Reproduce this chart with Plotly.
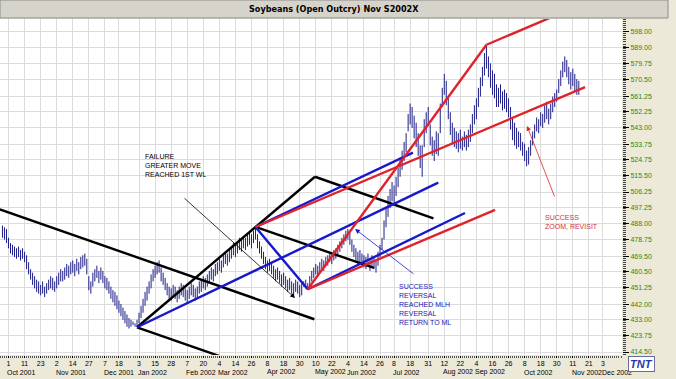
import plotly.graph_objects as go

# ---------------- data ----------------
bar_start = -3  # bar index of first bar (0 = 1 Oct 2001, trading days)
highs = [487,486,485,480,477,476,475,474,475,473,
         474,472,470,466,462,460,458,456,455,453,
         455,452,454,456,458,457,455,458,460,462,
         461,463,465,464,466,467,465,468,466,469,
         470,471,468,458,455,460,462,464,461,463,
         461,458,457,455,452,450,449,447,444,442,
         440,438,436,434,433,432,431,433,437,441,
         445,449,452,455,459,462,464,466,467,463,
         460,457,454,452,451,453,452,450,452,454,
         453,451,450,452,454,453,451,452,455,456,
         458,457,459,461,463,462,465,466,468,467,
         470,472,471,473,475,477,476,478,480,479,
         481,480,482,483,482,484,486,482,478,475,
         472,469,467,468,466,464,462,463,461,459,
         460,458,456,457,455,454,456,455,453,454,
         455,456,454,458,461,463,465,464,466,468,
         467,469,470,472,471,473,474,476,478,480,
         482,484,485,483,479,476,474,472,473,471,
         470,469,471,468,470,469,467,472,476,480,
         490,498,504,508,512,510,515,520,526,530,
         535,540,551,557,555,550,546,540,533,533,
         548,552,555,545,538,536,541,540,557,566,
         574,570,560,552,546,543,541,540,542,538,
         541,539,542,545,551,556,560,566,572,578,
         586,590,584,580,576,574,568,566,568,564,
         565,563,560,555,549,546,543,541,540,535,
         534,530,532,536,541,545,549,548,552,551,
         556,558,554,557,561,563,565,571,576,581,
         584,582,578,575,577,574,571,570]
lows = [480,479,477,474,471,470,469,468,469,467,
        468,466,462,459,456,453,451,449,448,447,
        448,446,448,450,451,450,449,451,453,455,
        455,456,458,457,459,460,458,461,459,462,
        463,464,459,450,448,452,455,457,454,456,
        454,451,450,448,445,443,441,439,437,435,
        433,431,429,428,429,430,429,429,431,434,
        437,441,444,448,451,455,457,459,460,455,
        453,450,447,445,444,446,445,443,445,447,
        446,444,443,445,447,446,444,445,448,449,
        451,450,452,454,456,455,458,459,461,460,
        463,465,464,466,468,470,469,471,473,472,
        474,473,475,476,474,477,479,474,471,468,
        465,462,460,461,459,457,455,456,454,452,
        453,451,449,450,448,447,449,448,446,447,
        452,451,450,452,455,457,459,458,460,462,
        461,463,464,466,465,467,468,470,472,474,
        476,478,479,476,472,469,467,465,466,464,
        463,462,464,461,463,462,460,464,469,473,
        479,486,492,497,501,499,504,509,515,519,
        524,529,541,545,543,537,532,527,520,515,
        532,540,544,533,527,524,528,527,540,555,
        562,556,548,539,534,532,531,529,531,530,
        532,530,532,535,540,545,548,555,561,567,
        573,577,572,566,562,560,555,555,557,553,
        554,552,549,542,536,533,531,532,530,527,
        524,521,522,527,533,537,541,540,544,543,
        546,548,545,548,552,555,558,563,567,572,
        575,572,568,565,567,564,562,562]

tick_bars = [0, 8, 16, 24, 32, 40, 48, 55, 65, 73, 81, 89, 97, 105, 113, 121, 129, 137,
             145, 153, 161, 169, 177, 185, 192, 200, 209, 217, 225, 233, 241, 249, 257,
             265, 273, 281, 289, 296]
tick_days = ["1", "11", "23", "2", "14", "27", "7", "18", "3", "15", "28", "7", "20", "4",
             "14", "26", "8", "18", "30", "10", "22", "4", "14", "26", "8", "18", "31", "12",
             "22", "4", "16", "26", "8", "18", "30", "11", "21", "3"]
month_bars = [0, 24, 48, 65, 89, 105, 129, 153, 169, 192, 217, 233, 257, 281, 296]
month_names = ["Oct 2001", "Nov 2001", "Dec 2001", "Jan 2002", "Feb 2002", "Mar 2002",
               "Apr 2002", "May 2002", "Jun 2002", "Jul 2002", "Aug 2002", "Sep 2002",
               "Oct 2002", "Nov 2002", "Dec 2002"]
price_ticks = [598.00, 589.00, 579.75, 570.50, 561.25, 552.25, 543.00, 533.75, 524.75,
               515.50, 506.25, 497.25, 488.00, 478.75, 469.50, 460.50, 451.25, 442.00,
               433.00, 423.75, 414.50]

# pivots (bar, price)
jan_low = (64, 428.7)
apr_high = (123, 486.2)
may_low = (149, 450.5)
sep_high = (238, 590.7)
black_top = (152.6, 515.0)

black_lines = [((-4.3, 496.3), (152.3, 433.3)),
               (jan_low, (108, 411.0)),
               (apr_high, (182, 462.7)),
               (black_top, (211.6, 491.1)),
               (jan_low, black_top)]
blue_lines = [(jan_low, (214, 511.6)),
              (apr_high, (201.4, 528.8)),
              (may_low, (227.3, 494.2)),
              (apr_high, may_low)]
red_lines = [(may_low, sep_high),
             (apr_high, (287.1, 566.4)),
             (sep_high, (287.0, 614.6)),
             (may_low, (242.3, 496.0))]

# ---------------- figure ----------------
fig = go.Figure()

bx, by = [], []
for i, (h, l) in enumerate(zip(highs, lows)):
    b = bar_start + i
    bx += [b, b, None]
    by += [l, h, None]
fig.add_trace(go.Scatter(x=bx, y=by, mode="lines",
                         line=dict(color="#1e1e88", width=1), hoverinfo="skip",
                         showlegend=False))

def add_segments(segs, color, width):
    xs, ys = [], []
    for (p0, p1) in segs:
        xs += [p0[0], p1[0], None]
        ys += [p0[1], p1[1], None]
    fig.add_trace(go.Scatter(x=xs, y=ys, mode="lines",
                             line=dict(color=color, width=width),
                             hoverinfo="skip", showlegend=False))

add_segments(black_lines, "#000000", 2.4)
add_segments(blue_lines, "#1818cc", 2.4)
add_segments(red_lines, "#e0222a", 2.4)

txt_font = "Liberation Sans, Arial, sans-serif"
anns = []
# thin arrows
anns.append(dict(x=142.7, y=445.5, ax=86.9, ay=503.4, xref="x", yref="y", axref="x", ayref="y",
                 showarrow=True, arrowhead=2, arrowsize=1.2, arrowwidth=0.8, arrowcolor="#000000", text=""))
anns.append(dict(x=172.6, y=485.0, ax=202.4, ay=458.7, xref="x", yref="y", axref="x", ayref="y",
                 showarrow=True, arrowhead=2, arrowsize=1.2, arrowwidth=0.8, arrowcolor="#1818cc", text=""))
anns.append(dict(x=258.2, y=544.1, ax=272.2, ay=502.8, xref="x", yref="y", axref="x", ayref="y",
                 showarrow=True, arrowhead=2, arrowsize=1.2, arrowwidth=0.8, arrowcolor="#e0222a", text=""))
# texts
anns.append(dict(x=67, y=529.5, xref="x", yref="y", xanchor="left", yanchor="top", showarrow=False,
                 align="left", text="FAILURE<br>GREATER MOVE<br>REACHED 1ST WL",
                 font=dict(family=txt_font, size=7, color="#000000")))
anns.append(dict(x=193.3, y=455.5, xref="x", yref="y", xanchor="left", yanchor="top", showarrow=False,
                 align="left", text="SUCCESS<br>REVERSAL<br>REACHED MLH<br>REVERSAL<br>RETURN TO ML",
                 font=dict(family=txt_font, size=7, color="#2020b0")))
anns.append(dict(x=266.2, y=495.0, xref="x", yref="y", xanchor="left", yanchor="top", showarrow=False,
                 align="left", text="SUCCESS<br>ZOOM, REVISIT",
                 font=dict(family=txt_font, size=7, color="#d03040")))
# month labels
for mb, mn in zip(month_bars, month_names):
    anns.append(dict(x=mb, y=-(372 - 355) / 336, xref="x", yref="paper", xanchor="left", yanchor="middle",
                     xshift=-3, showarrow=False, text=mn,
                     font=dict(family=txt_font, size=7, color="#000000")))
# title
anns.append(dict(x=334 / 622, y=1 + 10 / 336, xref="paper", yref="paper", showarrow=False,
                 text="<b>Soybeans (Open Outcry) Nov S2002X</b>", xanchor="center", yanchor="middle",
                 font=dict(family="Liberation Sans Narrow, DejaVu Sans Condensed, Arial Narrow, sans-serif",
                           size=9, color="#000000")))
# TNT logo
anns.append(dict(x=641 / 622, y=(355 - 364) / 336, xref="paper", yref="paper", showarrow=False,
                 text="<b><i>TNT</i></b>", xanchor="center", yanchor="middle",
                 bgcolor="#ffffff", bordercolor="#6a6aa0", borderwidth=1, borderpad=1,
                 font=dict(family="Liberation Sans, Arial, sans-serif", size=11, color="#2a36a8")))

shapes = [dict(type="rect", xref="paper", yref="paper", x0=0, x1=668 / 622,
               y0=1 + 1 / 336, y1=1 + 19 / 336, fillcolor="#d6d3cb",
               line=dict(color="#8c8c8c", width=1), layer="below")]

fig.update_layout(
    width=676, height=379,
    margin=dict(l=0, r=54, t=19, b=24, autoexpand=False),
    paper_bgcolor="#ece9d8", plot_bgcolor="#ffffff",
    showlegend=False,
    annotations=anns, shapes=shapes,
    xaxis=dict(range=[-4.23, 305.5], tickmode="array", tickvals=tick_bars, ticktext=tick_days,
               showgrid=True, gridcolor="#dcdcdc", gridwidth=1, zeroline=False,
               ticks="outside", ticklen=2, tickcolor="#000000", automargin=False,
               tickfont=dict(family=txt_font, size=7, color="#000000"),
               minor=dict(dtick=1, tick0=0, ticklen=2, tickcolor="#555555", showgrid=False),
               showline=False, fixedrange=True),
    yaxis=dict(range=[412.8, 605.45], side="right", tickmode="array", tickvals=price_ticks,
               ticktext=["%.2f" % v for v in price_ticks], automargin=False,
               showgrid=True, gridcolor="#dcdcdc", gridwidth=1, zeroline=False,
               ticks="outside", ticklen=6, tickcolor="#000000",
               tickfont=dict(family=txt_font, size=7, color="#1b8a1b"),
               minor=dict(tick0=414.5, dtick=1.146875, ticklen=3, tickcolor="#444444", showgrid=False),
               showline=False, fixedrange=True),
)

fig.write_html("out.html", config={"displayModeBar": False},
               post_script="document.body.style.margin='0px';document.body.style.overflow='hidden';")
